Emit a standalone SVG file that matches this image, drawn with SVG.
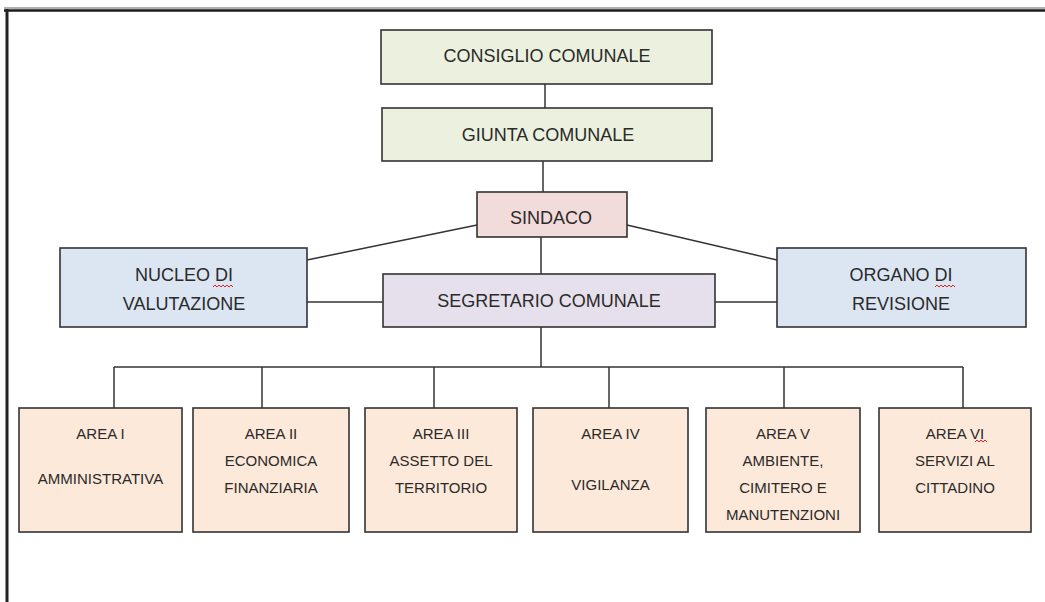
<svg xmlns="http://www.w3.org/2000/svg" width="1045" height="602" viewBox="0 0 1045 602">
<style>
.box{stroke:#333;stroke-width:1.6}
.green{fill:#EBF1DE}
.pink{fill:#F2DCDB}
.blue{fill:#DCE6F2}
.lav{fill:#E6E0EC}
.peach{fill:#FDE9D9}
text{font-family:"Liberation Sans",Arial,sans-serif;fill:#2a2a2a;text-anchor:middle}
.big{font-size:18px}
.sm{font-size:15px}
.conn line,.conn polyline{stroke:#333;stroke-width:1.5;fill:none}
.sq{stroke:#d22;stroke-width:1;fill:none}
</style>
<rect width="1045" height="602" fill="#fff"/>
<g id="frame">
<line x1="4" y1="8" x2="1045" y2="8" stroke="#b0b0b0" stroke-width="2"/>
<line x1="4" y1="10.5" x2="1045" y2="10.5" stroke="#1a1a1a" stroke-width="2.5"/>
<line x1="7" y1="9" x2="7" y2="602" stroke="#222" stroke-width="3"/>
</g>
<g class="conn" id="connectors">
<line x1="545" y1="84" x2="545" y2="108"/>
<line x1="543" y1="161" x2="543" y2="192"/>
<line x1="541" y1="237" x2="541" y2="274"/>
<line x1="477" y1="225" x2="307" y2="260"/>
<line x1="627" y1="225" x2="777" y2="260"/>
<line x1="307" y1="302" x2="383" y2="302"/>
<line x1="715" y1="302" x2="777" y2="302"/>
<line x1="541" y1="327" x2="541" y2="367"/>
<line x1="114" y1="367" x2="963" y2="367"/>
<line x1="114" y1="367" x2="114" y2="408"/>
<line x1="262" y1="367" x2="262" y2="408"/>
<line x1="434" y1="367" x2="434" y2="408"/>
<line x1="609" y1="367" x2="609" y2="408"/>
<line x1="784" y1="367" x2="784" y2="408"/>
<line x1="963" y1="367" x2="963" y2="408"/>
</g>
<g id="consiglio">
<rect class="box green" x="381" y="30" width="331" height="54"/>
<text class="big" x="547" y="62">CONSIGLIO COMUNALE</text>
</g>
<g id="giunta">
<rect class="box green" x="382" y="108" width="330" height="53"/>
<text class="big" x="548" y="141">GIUNTA COMUNALE</text>
</g>
<g id="sindaco">
<rect class="box pink" x="477" y="192" width="150" height="45"/>
<text class="big" x="551" y="223.5">SINDACO</text>
</g>
<g id="nucleo">
<rect class="box blue" x="60" y="248" width="247" height="79"/>
<text class="big" x="184" y="280.5">NUCLEO DI</text>
<text class="big" x="184" y="309.5">VALUTAZIONE</text>
<path class="sq" d="M213 287 l2 -2 l2 2 l2 -2 l2 2 l2 -2 l2 2 l2 -2 l2 2 l2 -2 l2 2"/>
</g>
<g id="segretario">
<rect class="box lav" x="383" y="274" width="332" height="53"/>
<text class="big" x="549" y="307">SEGRETARIO COMUNALE</text>
</g>
<g id="organo">
<rect class="box blue" x="777" y="248" width="249" height="79"/>
<text class="big" x="901" y="280.5">ORGANO DI</text>
<text class="big" x="901" y="309.5">REVISIONE</text>
<path class="sq" d="M935 287 l2 -2 l2 2 l2 -2 l2 2 l2 -2 l2 2 l2 -2 l2 2 l2 -2 l2 2"/>
</g>
<g id="area1">
<rect class="box peach" x="19" y="408" width="163" height="124"/>
<text class="sm" x="100.5" y="438.5">AREA I</text>
<text class="sm" x="100.5" y="483.5">AMMINISTRATIVA</text>
</g>
<g id="area2">
<rect class="box peach" x="193" y="408" width="156" height="124"/>
<text class="sm" x="271" y="438.5">AREA II</text>
<text class="sm" x="271" y="465.5">ECONOMICA</text>
<text class="sm" x="271" y="492.5">FINANZIARIA</text>
</g>
<g id="area3">
<rect class="box peach" x="365" y="408" width="152" height="124"/>
<text class="sm" x="441" y="438.5">AREA III</text>
<text class="sm" x="441" y="465.5">ASSETTO DEL</text>
<text class="sm" x="441" y="492.5">TERRITORIO</text>
</g>
<g id="area4">
<rect class="box peach" x="533" y="408" width="155" height="124"/>
<text class="sm" x="610.5" y="438.5">AREA IV</text>
<text class="sm" x="610.5" y="489.5">VIGILANZA</text>
</g>
<g id="area5">
<rect class="box peach" x="706" y="408" width="154" height="124"/>
<text class="sm" x="783" y="438.5">AREA V</text>
<text class="sm" x="783" y="465.5">AMBIENTE,</text>
<text class="sm" x="783" y="492.5">CIMITERO E</text>
<text class="sm" x="783" y="519.5">MANUTENZIONI</text>
</g>
<g id="area6">
<rect class="box peach" x="879" y="408" width="152" height="124"/>
<text class="sm" x="955" y="438.5">AREA VI</text>
<text class="sm" x="955" y="465.5">SERVIZI AL</text>
<text class="sm" x="955" y="492.5">CITTADINO</text>
<path class="sq" d="M975 442 l2 -2 l2 2 l2 -2 l2 2 l2 -2 l2 2"/>
</g>
</svg>
